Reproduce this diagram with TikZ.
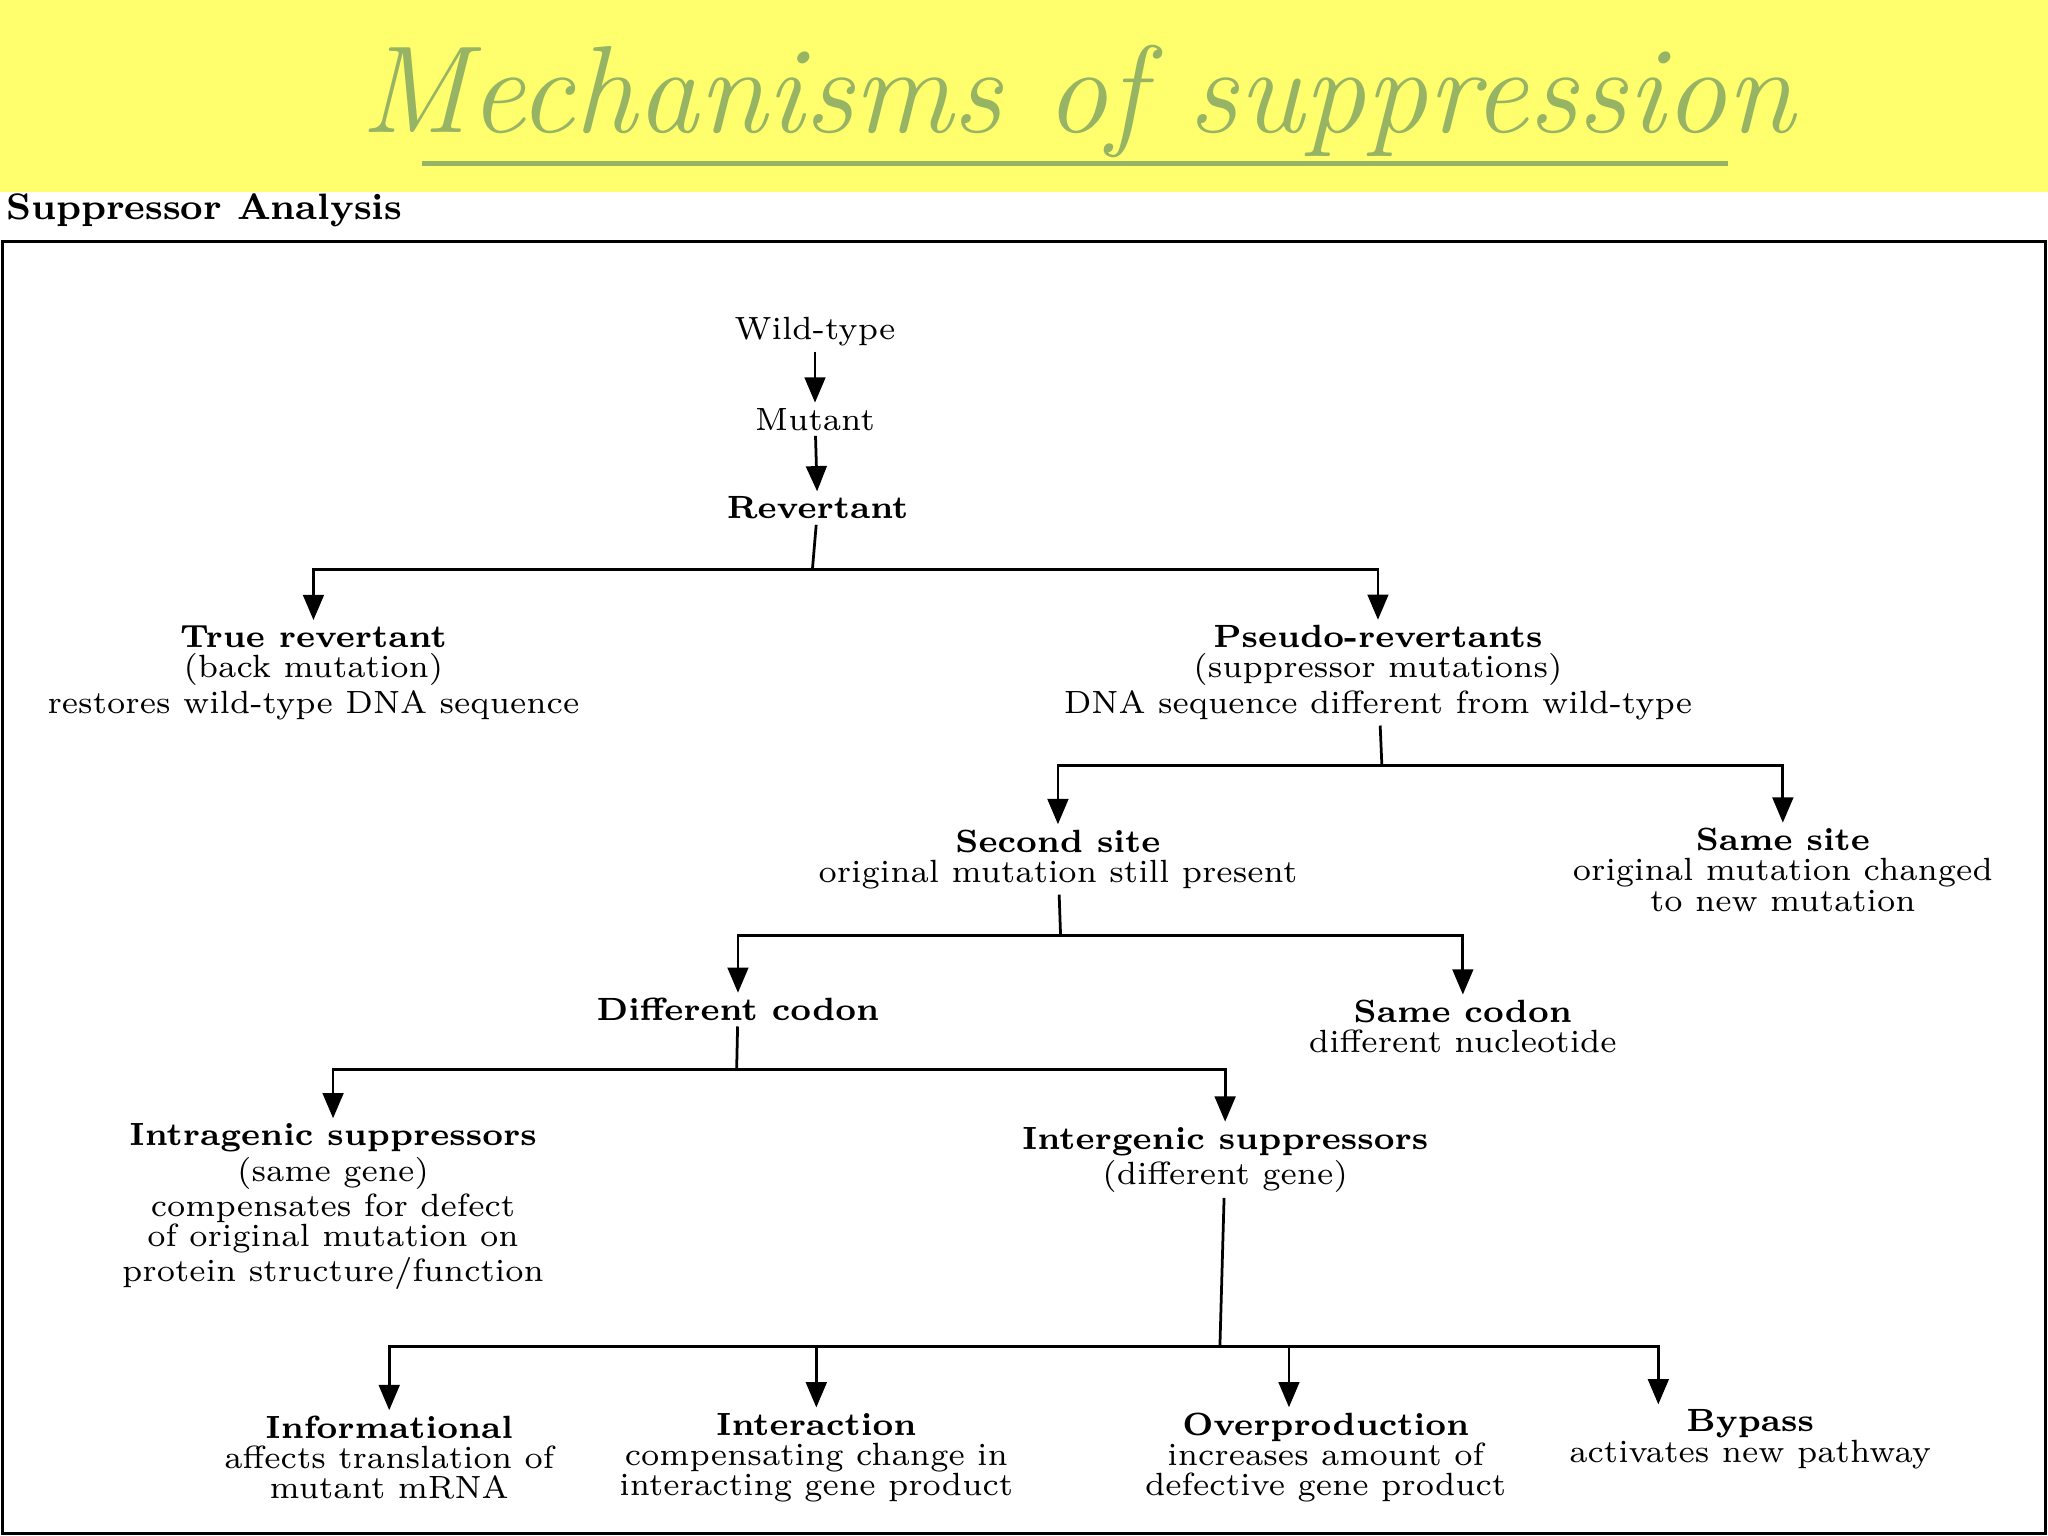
\documentclass[tikz,border=0pt]{standalone}
\usetikzlibrary{arrows.meta}
\definecolor{bandyellow}{RGB}{255,255,110}
\definecolor{titlegreen}{RGB}{150,180,100}
\tikzset{
  txt/.style={align=center,inner sep=1pt,font=\fontsize{7}{6.6}\selectfont},
  arr/.style={line width=0.6pt,-{Triangle[width=4.5pt,length=5.5pt]}},
  ln/.style={line width=0.6pt}
}
\begin{document}
\begin{tikzpicture}[x=0.01cm,y=-0.01cm]
\useasboundingbox (0,0) rectangle (1568,1176);
% title band
\fill[bandyellow] (0,0) rectangle (1568,147);
\node (title) at (825,78) {\color{titlegreen}\fontsize{27}{30}\selectfont\itshape Mechanisms of suppression};
\draw[titlegreen,line width=1.2pt] (323,125) -- (1323,125);
\node[anchor=west,inner sep=0pt] (head) at (4,161) {\fontsize{8}{8}\selectfont\bfseries\textsc{Suppressor Analysis}};
\draw[line width=0.7pt] (2,185) rectangle (1566,1174);
% chain
\node[txt] (wt) at (624,254) {Wild-type};
\node[txt] (mut) at (624,321) {Mutant};
\node[txt] (rev) at (626,389) {\bfseries Revertant};
\draw[arr] (wt) -- (mut);
\draw[arr] (mut) -- (rev);
% level 1
\node[txt] (tr) at (240,515) {\bfseries True revertant\\(back mutation)\\restores wild-type DNA sequence};
\node[txt] (pr) at (1055,515) {\bfseries Pseudo-revertants\\(suppressor mutations)\\DNA sequence different from wild-type};
\coordinate (j1) at (622,436);
\draw[ln] (rev) -- (j1);
\draw[arr] (j1) -| (tr.north);
\draw[arr] (j1) -| (pr.north);
% level 2
\node[txt] (ss) at (810,658) {\bfseries Second site\\original mutation still present};
\node[txt] (sm) at (1365,666) {\bfseries Same site\\original mutation changed\\to new mutation};
\coordinate (j2) at (1058,586);
\draw[ln] (pr) -- (j2);
\draw[arr] (j2) -| (ss.north);
\draw[arr] (j2) -| (sm.north);
% level 3
\node[txt] (dc) at (565,773) {\bfseries Different codon};
\node[txt] (sc) at (1120,786) {\bfseries Same codon\\different nucleotide};
\coordinate (j3) at (812,716);
\draw[ln] (ss) -- (j3);
\draw[arr] (j3) -| (dc.north);
\draw[arr] (j3) -| (sc.north);
% level 4
\node[txt] (intra) at (255,924) {\bfseries Intragenic suppressors\\(same gene)\\compensates for defect\\of original mutation on\\protein structure/function};
\node[txt] (inter) at (938,888) {\bfseries Intergenic suppressors\\(different gene)};
\coordinate (j4) at (564,819);
\draw[ln] (dc) -- (j4);
\draw[arr] (j4) -| (intra.north);
\draw[arr] (j4) -| (inter.north);
% level 5
\node[txt] (info) at (298,1116) {\bfseries Informational\\affects translation of\\mutant mRNA};
\node[txt] (iact) at (625,1116) {\bfseries Interaction\\compensating change in\\interacting gene product};
\node[txt] (over) at (1015,1116) {\bfseries Overproduction\\increases amount of\\defective gene product};
\node[txt] (byp) at (1340,1102) {\bfseries Bypass\\activates new pathway};
\coordinate (j5) at (934,1031);
\draw[ln] (inter) -- (j5);
\draw[arr] (j5) -| (info.north);
\draw[arr] (j5) -| (iact.north);
\draw[arr] (j5) -| ([xshift=-8]over.north);
\draw[arr] (j5) -| ([xshift=-20]byp.north);
\end{tikzpicture}
\end{document}
